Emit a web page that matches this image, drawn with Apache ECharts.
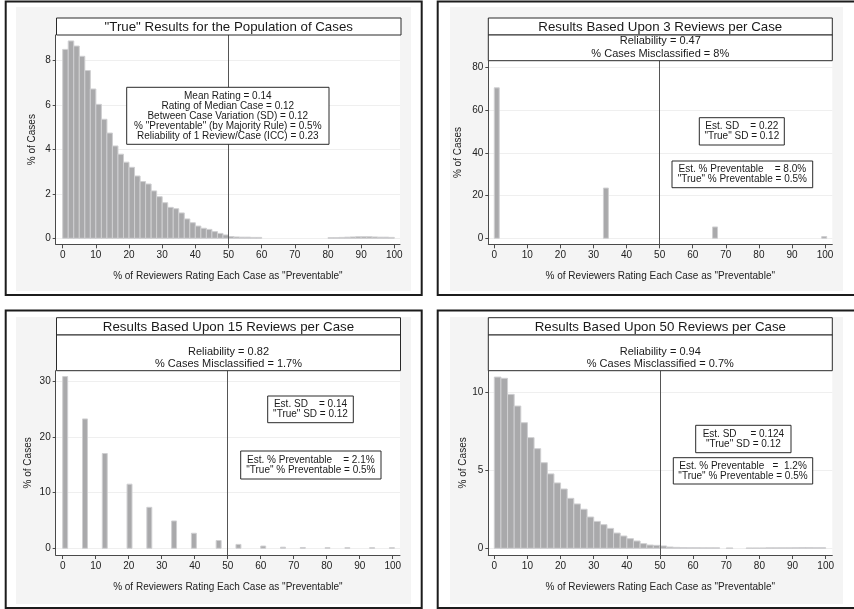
<!DOCTYPE html>
<html>
<head>
<meta charset="utf-8">
<script src="https://cdn.jsdelivr.net/npm/echarts@6/dist/echarts.min.js"></script>
<style>
html,body{margin:0;padding:0;background:#fff;}
#chart{width:854px;height:609px;}
</style>
</head>
<body>
<div id="chart"></div>
<script>
// ---------------- data ----------------
const xTicks = [0, 10, 20, 30, 40, 50, 60, 70, 80, 90, 100];
const xTitle = '% of Reviewers Rating Each Case as "Preventable"';
const yTitle = '% of Cases';
const cutoff = 50;

// Panel 1: "True" distribution (bin width 1.667)
const p1BinLeft = [0, 1.67, 3.33, 5, 6.67, 8.33, 10, 11.67, 13.33, 15, 16.67, 18.33, 20, 21.67, 23.33, 25, 26.67, 28.33, 30, 31.67,
  33.33, 35, 36.67, 38.33, 40, 41.67, 43.33, 45, 46.67, 48.33, 50, 51.67, 53.33, 55, 56.67, 58.33,
  80, 81.67, 83.33, 85, 86.67, 88.33, 90, 91.67, 93.33, 95, 96.67, 98.33];
const p1Pct = [8.49, 8.87, 8.64, 8.18, 7.54, 6.71, 6.02, 5.35, 4.73, 4.15, 3.78, 3.42, 3.19, 2.80, 2.55, 2.44, 2.13, 1.87, 1.60, 1.39,
  1.33, 1.14, 0.87, 0.70, 0.55, 0.45, 0.40, 0.30, 0.22, 0.15, 0.08, 0.06, 0.05, 0.05, 0.04, 0.04,
  0.03, 0.03, 0.04, 0.05, 0.06, 0.07, 0.07, 0.07, 0.06, 0.05, 0.05, 0.04];
const p1YTicks = [0, 2, 4, 6, 8];

// Panel 2: 3 reviews per case (bin width 1.5)
const p2BinLeft = [0, 33, 66, 99];
const p2Pct = [70.4, 23.5, 5.3, 0.8];
const p2YTicks = [0, 20, 40, 60, 80];

// Panel 3: 15 reviews per case (bin width 1.5)
const p3BinLeft = [0, 6, 12, 19.5, 25.5, 33, 39, 46.5, 52.5, 60, 66, 72, 79.5, 85.5, 93, 99];
const p3Pct = [30.8, 23.2, 17.0, 11.5, 7.35, 4.9, 2.7, 1.4, 0.7, 0.4, 0.2, 0.15, 0.12, 0.12, 0.12, 0.12];
const p3YTicks = [0, 10, 20, 30];

// Panel 4: 50 reviews per case (bin width 2)
const p4BinLeft = [0, 2, 4, 6, 8, 10, 12, 14, 16, 18, 20, 22, 24, 26, 28, 30, 32, 34, 36, 38,
  40, 42, 44, 46, 48, 50, 52, 54, 56, 58, 60, 62, 64, 66, 68, 70, 72, 74, 76, 78,
  80, 82, 84, 86, 88, 90, 92, 94, 96, 98];
const p4Pct = [11.0, 10.92, 9.89, 9.14, 8.07, 7.11, 6.40, 5.50, 4.78, 4.20,
  3.81, 3.21, 2.85, 2.51, 2.01, 1.73, 1.52, 1.28, 0.98, 0.79,
  0.62, 0.47, 0.30, 0.21, 0.19, 0.15, 0.08, 0.06, 0.05, 0.04,
  0.04, 0.03, 0.03, 0.03, 0, 0.02, 0, 0, 0.02, 0.02,
  0.02, 0.03, 0.03, 0.03, 0.03, 0.04, 0.05, 0.05, 0.04, 0.04];
const p4YTicks = [0, 5, 10];

const titles = [
  '"True" Results for the Population of Cases',
  'Results Based Upon 3 Reviews per Case',
  'Results Based Upon 15 Reviews per Case',
  'Results Based Upon 50 Reviews per Case'
];
const subtitles = [
  null,
  ['Reliability = 0.47', '% Cases Misclassified = 8%'],
  ['Reliability = 0.82', '% Cases Misclassified = 1.7%'],
  ['Reliability = 0.94', '% Cases Misclassified = 0.7%']
];
const p1Stats = ['Mean Rating = 0.14', 'Rating of Median Case = 0.12', 'Between Case Variation (SD) = 0.12',
  '% "Preventable" (by Majority Rule) = 0.5%', 'Reliability of 1 Review/Case (ICC) = 0.23'];
const sdNotes = [
  null,
  ['Est. SD    = 0.22', '"True" SD = 0.12'],
  ['Est. SD    = 0.14', '"True" SD = 0.12'],
  ['Est. SD     = 0.124', '"True" SD = 0.12']
];
const prevNotes = [
  null,
  ['Est. % Preventable    = 8.0%', '"True" % Preventable = 0.5%'],
  ['Est. % Preventable    = 2.1%', '"True" % Preventable = 0.5%'],
  ['Est. % Preventable   =  1.2%', '"True" % Preventable = 0.5%']
];

// ---------------- layout / style ----------------
const FONT = '"Liberation Sans", Arial, Helvetica, sans-serif';
const BAR_FILL = '#a9a9ab';
const BAR_EDGE = '#cfcfd1';
const AXIS_COLOR = '#4a4a4a';
const TEXT_COLOR = '#1a1a1a';
const TICK_TEXT = '#222';

const panels = [
  { grid: {left: 55.7, top: 35, width: 344.3, height: 209.3}, x: [-2.11, 101.72], y: [-0.27, 9.137],
    bins: p1BinLeft, vals: p1Pct, bw: 1.667, yTicks: p1YTicks, yGap: 18.4 },
  { grid: {left: 488.3, top: 60.7, width: 344, height: 183.6}, x: [-1.81, 102.2], y: [-2.81, 83.09],
    bins: p2BinLeft, vals: p2Pct, bw: 1.5, yTicks: p2YTicks, yGap: 25 },
  { grid: {left: 55.7, top: 370.7, width: 344.3, height: 184.3}, x: [-2.12, 102.2], y: [-1.2, 31.85],
    bins: p3BinLeft, vals: p3Pct, bw: 1.5, yTicks: p3YTicks, yGap: 22.4 },
  { grid: {left: 488.3, top: 370.7, width: 344, height: 184.3}, x: [-1.81, 102.0], y: [-0.43, 11.41],
    bins: p4BinLeft, vals: p4Pct, bw: 2, yTicks: p4YTicks, yGap: 18.3 }
];

function binRenderer(width) {
  return function (params, api) {
    const x = api.value(0), y = api.value(1);
    if (!(y > 0)) return;
    const a = api.coord([x, 0]);
    const b = api.coord([x + width, y]);
    return {
      type: 'rect',
      shape: { x: a[0], y: b[1], width: b[0] - a[0], height: a[1] - b[1] },
      style: { fill: BAR_FILL, stroke: BAR_EDGE, lineWidth: 1 }
    };
  };
}

const grids = [], xAxes = [], yAxes = [], series = [];
panels.forEach(function (p, i) {
  grids.push(Object.assign({ show: true, backgroundColor: '#ffffff', borderWidth: 0, containLabel: false, outerBoundsMode: 'none' }, p.grid));
  xAxes.push({
    type: 'value', gridIndex: i, min: p.x[0], max: p.x[1],
    axisLine: { show: true, onZero: false, lineStyle: { color: AXIS_COLOR, width: 1 } },
    axisTick: { show: true, customValues: xTicks, length: 4, lineStyle: { color: AXIS_COLOR, width: 1 } },
    axisLabel: { show: true, customValues: xTicks, fontSize: 10, fontFamily: FONT, color: TICK_TEXT, margin: 6 },
    splitLine: { show: false },
    name: xTitle, nameLocation: 'middle', nameGap: 27,
    nameTextStyle: { fontSize: 10, fontFamily: FONT, color: TICK_TEXT }
  });
  yAxes.push({
    type: 'value', gridIndex: i, min: p.y[0], max: p.y[1],
    axisLine: { show: true, onZero: false, lineStyle: { color: AXIS_COLOR, width: 1 } },
    axisTick: { show: true, customValues: p.yTicks, length: 3, lineStyle: { color: AXIS_COLOR, width: 1 } },
    axisLabel: { show: true, customValues: p.yTicks, fontSize: 10, fontFamily: FONT, color: TICK_TEXT, margin: 5 },
    splitLine: { show: true, lineStyle: { color: '#efefef', width: 1 } },
    name: yTitle, nameLocation: 'middle', nameGap: p.yGap, nameRotate: 90,
    nameTextStyle: { fontSize: 10, fontFamily: FONT, color: TICK_TEXT }
  });
  series.push({
    type: 'custom', xAxisIndex: i, yAxisIndex: i,
    renderItem: binRenderer(p.bw),
    encode: { x: 0, y: 1 },
    data: p.bins.map(function (b, k) { return [b, p.vals[k]]; }),
    clip: true, silent: true, animation: false,
    markLine: {
      silent: true, symbol: ['none', 'none'], animation: false,
      label: { show: false },
      lineStyle: { color: '#555', width: 1, type: 'solid' },
      data: [{ xAxis: cutoff }]
    }
  });
});

// ---------------- decorations ----------------
const g = [];
function rect(x, y, w, h, fill, stroke, lw, z) {
  g.push({ type: 'rect', silent: true, z: z, shape: { x: x, y: y, width: w, height: h },
    style: { fill: fill, stroke: stroke || null, lineWidth: lw || 0 } });
}
function text(x, y, lines, size, lh, z) {
  g.push({ type: 'text', silent: true, z: z, x: x, y: y,
    style: { text: lines.join('\n'), font: size + 'px ' + FONT, fill: TEXT_COLOR,
      align: 'center', verticalAlign: 'middle', lineHeight: lh } });
}

// panel frames and gray backgrounds
const frames = [
  { b: [5.7, 1.5, 416, 293.5], bg: [16, 7, 395, 284] },
  { b: [437.7, 1.5, 422, 293.5], bg: [450, 7, 393, 284] },
  { b: [5.7, 310.5, 416, 297.5], bg: [16, 317, 395, 287] },
  { b: [437.7, 310.5, 422, 297.5], bg: [450, 317, 393, 287] }
];
frames.forEach(function (f) {
  rect(f.bg[0], f.bg[1], f.bg[2], f.bg[3], '#f4f4f4', null, 0, -20);
  rect(f.b[0], f.b[1], f.b[2], f.b[3], 'none', '#1c1c1c', 2, 50);
});

// title boxes
const titleBoxes = [
  { x: 56.5, y: 18, w: 344.5, h: 17, sub: null },
  { x: 488.3, y: 18, w: 344, h: 17, sub: { h: 25.7, l1: 40.8, l2: 53.9 } },
  { x: 56.5, y: 317.7, w: 344, h: 17.3, sub: { h: 35.7, l1: 352.3, l2: 364 } },
  { x: 488.3, y: 317.7, w: 344, h: 17.3, sub: { h: 35.7, l1: 352.3, l2: 363.8 } }
];
titleBoxes.forEach(function (t, i) {
  rect(t.x, t.y, t.w, t.h, '#ffffff', '#2a2a2a', 1, 30);
  text(t.x + t.w / 2, t.y + t.h / 2 + 0.5, [titles[i]], 13.3, 15, 31);
  if (t.sub) {
    rect(t.x, t.y + t.h, t.w, t.sub.h, '#ffffff', '#2a2a2a', 1, 30);
    text(t.x + t.w / 2, t.sub.l1, [subtitles[i][0]], 11, 13, 31);
    text(t.x + t.w / 2, t.sub.l2, [subtitles[i][1]], 11, 13, 31);
  }
});

// panel 1 statistics box
rect(126.7, 87.3, 202.3, 57, '#ffffff', '#2a2a2a', 1, 30);
text(227.8, 116.3, p1Stats, 10, 10.1, 31);

// note boxes
const noteBoxes = [
  null,
  { sd: [699.3, 117.7, 85, 27.3], pv: [672, 161, 140.7, 26.7] },
  { sd: [267.7, 396, 85.6, 26.7], pv: [240.7, 451, 140.3, 28] },
  { sd: [695.7, 425.3, 95.3, 27.4], pv: [673.3, 457.7, 139.4, 26.3] }
];
noteBoxes.forEach(function (n, i) {
  if (!n) return;
  rect(n.sd[0], n.sd[1], n.sd[2], n.sd[3], '#ffffff', '#2a2a2a', 1, 30);
  text(n.sd[0] + n.sd[2] / 2, n.sd[1] + n.sd[3] / 2, sdNotes[i], 10, 10, 31);
  rect(n.pv[0], n.pv[1], n.pv[2], n.pv[3], '#ffffff', '#2a2a2a', 1, 30);
  text(n.pv[0] + n.pv[2] / 2, n.pv[1] + n.pv[3] / 2, prevNotes[i], 10, 10, 31);
});

const chart = echarts.init(document.getElementById('chart'), null, { renderer: 'canvas' });
chart.setOption({
  animation: false,
  backgroundColor: '#ffffff',
  textStyle: { fontFamily: FONT },
  grid: grids,
  xAxis: xAxes,
  yAxis: yAxes,
  series: series,
  graphic: { elements: g }
});
</script>
</body>
</html>
